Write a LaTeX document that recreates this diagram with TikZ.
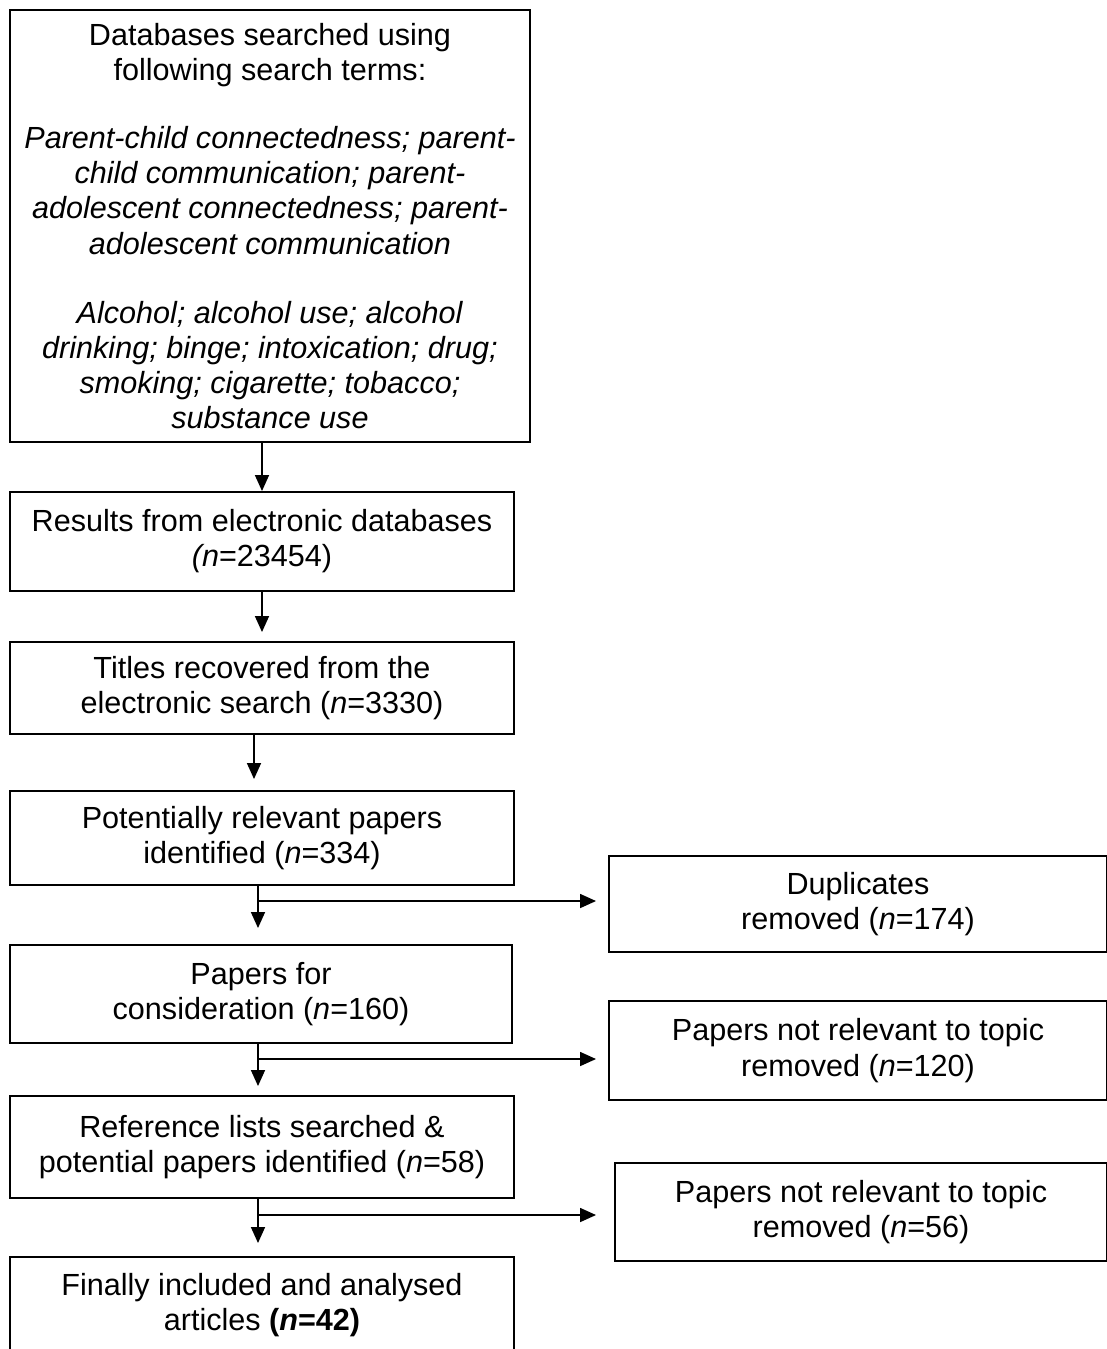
\documentclass[tikz,border=0pt]{standalone}
\usepackage{fontspec}
\setmainfont{Liberation Sans}
\usetikzlibrary{arrows.meta}

\begin{document}
\begin{tikzpicture}[
	stage/.style={draw, rectangle, line width=1.1pt, align=center, inner sep=0pt,
		font=\fontsize{17.4}{20}\selectfont},
	>={Triangle[length=0.32cm, width=0.28cm]},
	flow/.style={->, line width=0.9pt}
	]
	\useasboundingbox (0,0) rectangle (22.14,-26.98);
	
	% Suche
	\node (search) [stage, minimum width=10.4cm, minimum height=8.64cm] at (5.40,-4.52) {Databases searched using\\following search terms:\\[0.66cm]
		\textit{Parent-child connectedness; parent-}\\\textit{child communication; parent-}\\\textit{adolescent connectedness; parent-}\\\textit{adolescent communication}\\[0.68cm]
		\textit{Alcohol; alcohol use; alcohol}\\\textit{drinking; binge; intoxication; drug;}\\\textit{smoking; cigarette; tobacco;}\\\textit{substance use}};
	
	% Hauptpfad
	\node (results) [stage, minimum width=10.08cm, minimum height=1.98cm] at (5.24,-10.83) {Results from electronic databases\\\textit{(n}=23454)};
	\node (titles) [stage, minimum width=10.08cm, minimum height=1.84cm] at (5.24,-13.76) {Titles recovered from the\\electronic search (\textit{n}=3330)};
	\node (potential) [stage, minimum width=10.08cm, minimum height=1.88cm] at (5.24,-16.76) {Potentially relevant papers\\identified (\textit{n}=334)};
	\node (consid) [stage, minimum width=10.04cm, minimum height=1.96cm] at (5.22,-19.88) {Papers for\\consideration (\textit{n}=160)};
	\node (reflists) [stage, minimum width=10.08cm, minimum height=2.04cm] at (5.24,-22.94) {Reference lists searched \&\\potential papers identified (\textit{n}=58)};
	\node (final) [stage, minimum width=10.08cm, minimum height=1.92cm] at (5.24,-26.10) {Finally included and analysed\\articles \textbf{(\textit{n}=42)}};
	
	% Ausschluss
	\node (dup) [stage, minimum width=9.96cm, minimum height=1.92cm] at (17.16,-18.08) {Duplicates\\removed (\textit{n}=174)};
	\node (notrel1) [stage, minimum width=9.96cm, minimum height=1.98cm] at (17.16,-21.01) {Papers not relevant to topic\\removed (\textit{n}=120)};
	\node (notrel2) [stage, minimum width=9.84cm, minimum height=1.96cm] at (17.22,-24.24) {Papers not relevant to topic\\removed (\textit{n}=56)};
	
	% Pfeile oben
	\draw[flow] (search.south -| results.north) -- (results.north);
	\draw[flow, shorten >=0.18cm] (results.south) -- (titles.north);
	\draw[flow, shorten >=0.22cm] ([xshift=-0.16cm]titles.south) -- ([xshift=-0.16cm]potential.north);
	
	% Abzweigungen
	\coordinate (split1) at (5.16,-18.02);
	\coordinate (split2) at (5.16,-21.18);
	\coordinate (split3) at (5.16,-24.30);
	\draw[flow, shorten >=0.32cm] (potential.south -| split1) -- (consid.north -| split1);
	\draw[flow, shorten >=0.24cm] (split1) -- (split1 -| dup.west);
	\draw[flow, shorten >=0.18cm] (consid.south -| split2) -- (reflists.north -| split2);
	\draw[flow, shorten >=0.24cm] (split2) -- (split2 -| notrel1.west);
	\draw[flow, shorten >=0.26cm] (reflists.south -| split3) -- (final.north -| split3);
	\draw[flow, shorten >=0.36cm] (split3) -- (split3 -| notrel2.west);
	
\end{tikzpicture}
\end{document}
